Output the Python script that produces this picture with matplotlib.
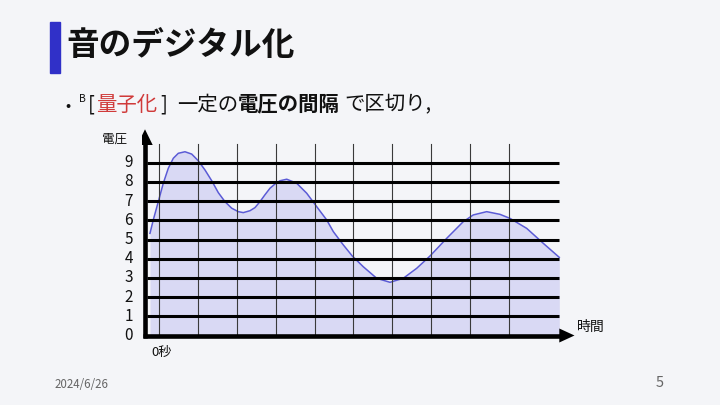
import matplotlib
matplotlib.use("Agg")
import matplotlib.pyplot as plt

plt.rcParams['font.family'] = ['Noto Sans CJK JP', 'DejaVu Sans']

# ================================
# データ
# ================================
title = "音のデジタル化"
voltage_label = "電圧"
time_label = "時間"
origin_label = "0秒"
date_text = "2024/6/26"
page_text = "5"

level_values = [0, 1, 2, 3, 4, 5, 6, 7, 8, 9]          # 量子化レベル
level_labels = [str(v) for v in level_values]
sample_times = [0, 1, 2, 3, 4, 5, 6, 7, 8, 9]          # 縦線（標本化の時刻）

# 波形（時刻, 電圧）
wave_t = [-0.24, -0.155, -0.026, 0.103, 0.232, 0.361, 0.49, 0.662, 0.835, 1.005,
          1.178, 1.351, 1.521, 1.693, 1.866, 2.036, 2.165, 2.338, 2.466, 2.595,
          2.72, 2.853, 3.0, 3.111, 3.284, 3.541, 3.799, 4.057, 4.314, 4.485,
          4.73, 4.974, 5.258, 5.603, 5.946, 6.289, 6.634, 6.977, 7.407, 7.835,
          8.093, 8.438, 8.781, 9.039, 9.469, 9.897, 10.309]
wave_v = [5.32, 6.02, 6.97, 7.93, 8.71, 9.23, 9.49, 9.57, 9.45, 9.10,
          8.62, 8.06, 7.44, 6.97, 6.63, 6.45, 6.40, 6.50, 6.66, 6.97,
          7.32, 7.67, 7.92, 8.06, 8.14, 7.93, 7.41, 6.71, 6.02, 5.41,
          4.75, 4.14, 3.58, 2.98, 2.77, 2.98, 3.50, 4.14, 5.06, 5.93,
          6.28, 6.45, 6.31, 6.10, 5.58, 4.80, 4.07]

# ================================
# 図の設定
# ================================
W, H = 720, 405
bg = "#f4f5f8"
fig = plt.figure(figsize=(7.2, 4.05), dpi=100, facecolor=bg)

# ピクセル <-> データ の対応
px0, sx = 159.3, 38.8      # t=0 の x ピクセル, 1秒あたりのピクセル
py0, sy = 335.5, 19.2      # v=0 の y ピクセル, 1レベルあたりのピクセル
xlim = (-0.45, 10.9)
ylim = (-0.7, 10.9)
left_px = px0 + sx * xlim[0]
right_px = px0 + sx * xlim[1]
bottom_px = py0 - sy * ylim[0]
top_px = py0 - sy * ylim[1]
ax = fig.add_axes([left_px / W, 1 - bottom_px / H,
                   (right_px - left_px) / W, (bottom_px - top_px) / H])
ax.set_xlim(*xlim)
ax.set_ylim(*ylim)
ax.axis("off")

def dx(p):
    return p / sx

def dy(p):
    return p / sy

# 塗りつぶしと波形
ax.fill_between(wave_t, wave_v, 0, color="#d9d9f4", lw=0, zorder=1)
ax.plot(wave_t, wave_v, color="#5b5bd6", lw=1.1, zorder=2,
        solid_joinstyle="round")

# 縦線
for t in sample_times:
    ax.plot([t, t], [0, 9.95], color="#3a3a3a", lw=0.8, zorder=3)

# 横線（量子化レベル）
x_end = wave_t[-1]
for v in level_values[1:]:
    ax.plot([dx(147 - px0), x_end], [v, v], color="black", lw=2.2,
            zorder=4, solid_capstyle="butt")

# 軸（矢印）
y_axis_x = dx(145 - px0)
ax.plot([y_axis_x, y_axis_x], [-dy(2.2), 10.0], color="black", lw=3.3,
        zorder=5, solid_capstyle="butt")
ax.fill([y_axis_x - dx(7.7), y_axis_x + dx(7.7), y_axis_x],
        [dy(py0 - 145), dy(py0 - 145), dy(py0 - 129.3)],
        color="black", lw=0, zorder=5)
ax.plot([y_axis_x - dx(2.2), dx(560 - px0)], [0, 0], color="black", lw=3.3,
        zorder=5, solid_capstyle="butt")
ax.fill([dx(559.3 - px0), dx(559.3 - px0), dx(574.5 - px0)],
        [dy(7), -dy(7), 0], color="black", lw=0, zorder=5)

# 目盛りラベル
for v, lab in zip(level_values, level_labels):
    ax.text(dx(133 - px0), v, lab, ha="right", va="center", fontsize=11,
            color="#111111")
ax.text(dx(127 - px0), dy(py0 - 139), voltage_label, ha="right",
        va="center", fontsize=9, color="#111111")
ax.text(dx(577 - px0), dy(py0 - 326.5), time_label, ha="left",
        va="center", fontsize=10, color="#111111")
ax.text(dx(151 - px0), dy(py0 - 352.5), origin_label, ha="left",
        va="center", fontsize=9.5, color="#111111")

# ================================
# タイトル・本文
# ================================
fig.patches.append(plt.Rectangle((50 / W, 1 - 73 / H), 10 / W, 51 / H,
                                 transform=fig.transFigure,
                                 color="#3030c8", zorder=1))
fig.text(66 / W, 1 - 46 / H, title, fontsize=23.5, fontweight="bold",
         va="center", ha="left", color="#111111")

line_y = 1 - 110.5 / H
body = dict(fontsize=14.7, color="#111111", va="baseline", ha="left")
fig.text(65 / W, line_y, "•", fontsize=11, color="#111111", va="baseline", ha="left")
fig.text(79.5 / W, 1 - 102 / H, "B", fontsize=7.5, color="#111111",
         va="baseline", ha="left")
fig.text(87.5 / W, line_y, "[", **body)
fig.text(96.5 / W, line_y, "量子化", **dict(body, color="#d03a3a"))
fig.text(160.5 / W, line_y, "]", **body)
fig.text(177.5 / W, line_y, "一定の", **body)
fig.text(237.5 / W, line_y, "電圧の間隔", fontweight="bold", **body)
fig.text(344.5 / W, line_y, "で区切り,", **body)

fig.text(55 / W, 1 - 385 / H, date_text, fontsize=8.3, color="#666666",
         va="center", ha="left")
fig.text(664 / W, 1 - 383 / H, page_text, fontsize=10.5, color="#666666",
         va="center", ha="right")

fig.savefig("out.png", dpi=100, facecolor=bg)
